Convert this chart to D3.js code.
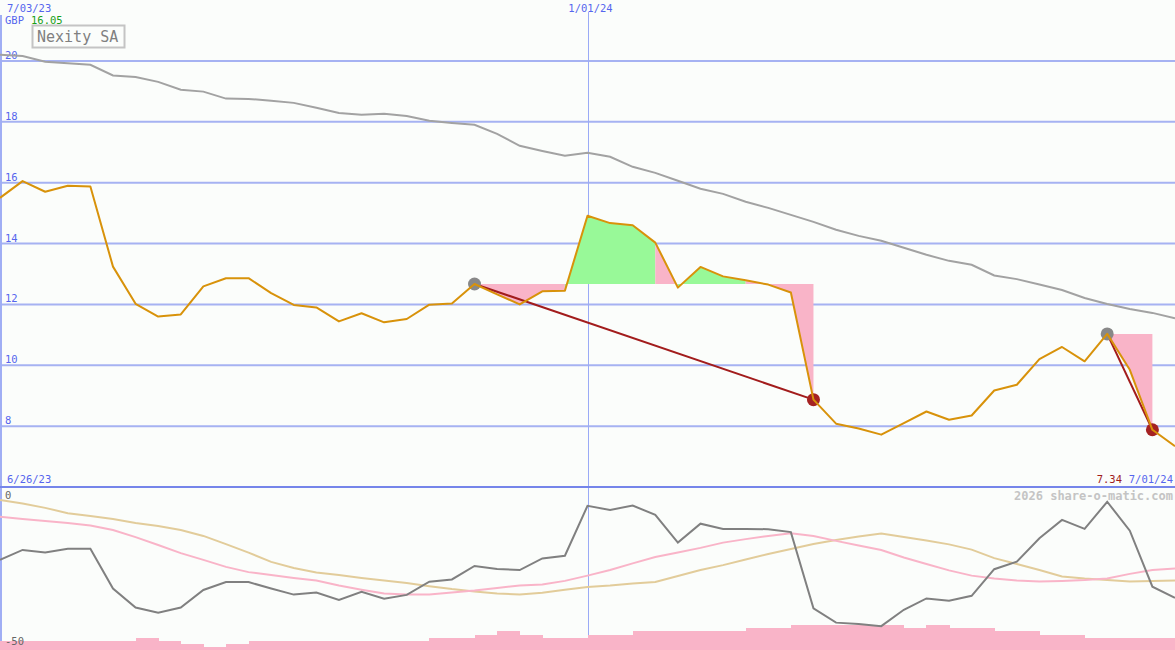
<!DOCTYPE html>
<html><head><meta charset="utf-8">
<script src="https://cdn.jsdelivr.net/npm/d3@7"></script>
<style>
body{margin:0;background:#fbfdfb}
svg{display:block}
text{font-family:"DejaVu Sans Mono",monospace}
</style>
</head><body>
<svg id="c" width="1175" height="650"></svg>
<script>
const startDate = "2023-07-03";
const endDate = "2024-07-01";
const midDate = "2024-01-01";
const priceTicks = [20, 18, 16, 14, 12, 10, 8];
const oscTicks = [0, -50];
const price = [15.5, 16.05, 15.7, 15.9, 15.87, 13.24, 12.02, 11.6, 11.67, 12.59, 12.86, 12.86, 12.37, 11.98, 11.9, 11.44, 11.71, 11.41, 11.52, 11.99, 12.03, 12.67, 12.33, 12.0, 12.43, 12.45, 14.91, 14.67, 14.6, 14.03, 12.55, 13.23, 12.92, 12.79, 12.65, 12.39, 8.87, 8.08, 7.92, 7.72, 8.1, 8.48, 8.21, 8.35, 9.17, 9.36, 10.2, 10.6, 10.13, 11.03, 9.85, 7.88, 7.34];
const priceMA = [20.2, 20.16, 19.97, 19.92, 19.87, 19.52, 19.47, 19.31, 19.05, 18.99, 18.76, 18.75, 18.69, 18.62, 18.46, 18.29, 18.23, 18.26, 18.19, 18.03, 17.96, 17.9, 17.6, 17.21, 17.04, 16.88, 16.98, 16.85, 16.52, 16.32, 16.06, 15.8, 15.63, 15.37, 15.17, 14.94, 14.71, 14.45, 14.25, 14.09, 13.86, 13.63, 13.43, 13.3, 12.95, 12.83, 12.65, 12.47, 12.21, 12.01, 11.85, 11.72, 11.54];
const oscFast = [-20.5, -17.1, -18, -16.7, -16.7, -30.3, -36.8, -38.6, -36.8, -30.8, -28.1, -28.1, -30.3, -32.4, -31.7, -34.2, -31.4, -33.8, -32.5, -28, -27.2, -22.6, -23.6, -24, -20, -19.1, -2, -3.4, -1.9, -5.1, -14.6, -8.1, -9.9, -9.9, -10, -11, -37.1, -42, -42.5, -43.2, -37.6, -33.7, -34.5, -32.8, -23.7, -21.1, -13.1, -6.8, -9.9, -0.6, -10.5, -29.7, -33.5];
const oscMid = [-5.7, -6.5, -7.2, -7.9, -8.7, -10.3, -12.7, -15.4, -18.2, -20.5, -22.9, -24.7, -25.7, -26.7, -27.6, -29.3, -30.7, -32.0, -32.4, -32.4, -31.7, -31.0, -30.1, -29.3, -28.9, -27.7, -25.9, -24.0, -21.7, -19.5, -18.0, -16.4, -14.6, -13.4, -12.3, -11.4, -12.3, -14.0, -15.6, -17.1, -19.7, -21.9, -24.1, -25.9, -26.9, -27.6, -27.9, -27.7, -27.4, -26.9, -25.3, -24.0, -23.5];
const oscSlow = [0, -1.2, -2.7, -4.5, -5.5, -6.5, -7.9, -8.9, -10.3, -12.3, -15.1, -18.0, -21.2, -23.3, -24.8, -25.7, -26.7, -27.6, -28.4, -29.5, -30.5, -31.3, -32.0, -32.4, -31.8, -30.7, -29.8, -29.3, -28.6, -28.1, -26.0, -24.0, -22.3, -20.4, -18.5, -16.8, -15.1, -13.7, -12.5, -11.5, -12.7, -13.9, -15.2, -17.0, -19.9, -21.9, -24.0, -26.2, -26.9, -27.4, -27.9, -27.7, -27.6];
const volume = [3, 3, 3, 3, 3, 3, 4, 3, 2, 1, 2, 3, 3, 3, 3, 3, 3, 3, 3, 4, 4, 5, 6, 5, 4, 4, 5, 5, 6, 6, 6, 6, 6, 7, 7, 8, 8, 8, 8, 8, 7, 8, 7, 7, 6, 6, 5, 5, 4, 4, 4, 4];
const tradeEntries = [21, 49];
const tradeExits = [36, 51];

const W = 1175, H = 650;
const svg = d3.select("#c");
const parse = d3.utcParse("%Y-%m-%d");
const d0 = parse(startDate), d1 = parse(endDate), dm = parse(midDate);
const dates = price.map((_, i) => d3.utcDay.offset(d0, 7 * i));

const x = d3.scaleUtc().domain([d0, d1]).range([0, W]);
const y = d3.scaleLinear().domain([6, 22]).range([487, 0]);
const yo = d3.scaleLinear().domain([0, -50]).range([500, 646]);
const yv = d3.scaleLinear().domain([0, 10]).range([650, 619]);

const blue = "#5565ee", grid = "#a6b2f2";
const FS = 10.5;

svg.append("rect").attr("width", W).attr("height", H).attr("fill", "#fbfdfb");

// grid lines
svg.selectAll(".g").data(priceTicks).join("line")
  .attr("x1", 0).attr("x2", W).attr("y1", d => y(d)).attr("y2", d => y(d))
  .attr("stroke", grid).attr("stroke-width", 2);
svg.selectAll(".gl").data(priceTicks).join("text")
  .attr("x", 5).attr("y", d => y(d) - 2).attr("font-size", FS).attr("fill", blue).text(d => d);

// vertical date line
const xm = Math.round(x(dm)) + 0.5;
svg.append("line").attr("x1", xm).attr("x2", xm).attr("y1", 12).attr("y2", H)
  .attr("stroke", "#9aaaf6").attr("stroke-width", 1);
// left axis line
svg.append("line").attr("x1", 1).attr("x2", 1).attr("y1", 15).attr("y2", H)
  .attr("stroke", "#a0aef4").attr("stroke-width", 2);

// trade fills (runs of equal colour merged)
const area = d3.area().x(d => x(dates[d.i])).y1(d => y(d.v));
tradeEntries.forEach((e, t) => {
  const base = price[e];
  const ex = tradeExits[t];
  let k = e;
  while (k < ex) {
    const up = price[k + 1] > base;
    let m = k + 1;
    while (m < ex && (price[m + 1] > base) === up) m++;
    const seg = d3.range(k, m + 1).map(i => ({i, v: price[i]}));
    svg.append("path").attr("d", area.y0(y(base))(seg))
      .attr("fill", up ? "#98f998" : "#f9b4c8");
    k = m;
  }
});

// moving average
const line = d3.line().x((d, i) => x(dates[i])).y(d => y(d));
svg.append("path").attr("d", line(priceMA)).attr("fill", "none")
  .attr("stroke", "#a2a2a2").attr("stroke-width", 2);

// trade lines and markers
tradeEntries.forEach((e, t) => {
  const xe = tradeExits[t];
  svg.append("line").attr("x1", x(dates[e])).attr("y1", y(price[e]))
    .attr("x2", x(dates[xe])).attr("y2", y(price[xe]))
    .attr("stroke", "#a21c1c").attr("stroke-width", 2);
  svg.append("circle").attr("cx", x(dates[e])).attr("cy", y(price[e])).attr("r", 6.5).attr("fill", "#888");
  svg.append("circle").attr("cx", x(dates[xe])).attr("cy", y(price[xe])).attr("r", 6.5).attr("fill", "#a52222");
});

// price line
svg.append("path").attr("d", line(price)).attr("fill", "none")
  .attr("stroke", "#d8920a").attr("stroke-width", 2).attr("stroke-linejoin", "round");

// panel divider
svg.append("line").attr("x1", 0).attr("x2", W).attr("y1", 487).attr("y2", 487)
  .attr("stroke", "#7585ea").attr("stroke-width", 2);

// volume bars
svg.selectAll(".v").data(volume).join("rect")
  .attr("x", (d, i) => x(dates[i])).attr("width", (d, i) => x(dates[i + 1]) - x(dates[i]) + 0.5)
  .attr("y", d => yv(d)).attr("height", d => 650 - yv(d)).attr("fill", "#f9b4c8")
  .attr("shape-rendering", "crispEdges");

// oscillators
const oline = d3.line().x((d, i) => x(dates[i])).y(d => yo(d));
svg.append("path").attr("d", oline(oscSlow)).attr("fill", "none").attr("stroke", "#e2cc9a").attr("stroke-width", 2);
svg.append("path").attr("d", oline(oscMid)).attr("fill", "none").attr("stroke", "#f9b4c8").attr("stroke-width", 2);
svg.append("path").attr("d", oline(oscFast)).attr("fill", "none").attr("stroke", "#808080").attr("stroke-width", 2);

svg.selectAll(".ol").data(oscTicks).join("text")
  .attr("x", 5).attr("y", d => yo(d) - 1).attr("font-size", FS).attr("fill", "#666").text(d => d);

// texts
const fmt = d3.utcFormat("%-m/%d/%y");
svg.append("text").attr("x", 7).attr("y", 12).attr("font-size", FS).attr("fill", blue).text(fmt(d0));
svg.append("text").attr("x", x(dm) + 3).attr("y", 12).attr("font-size", FS).attr("fill", blue)
  .attr("text-anchor", "middle").text(fmt(dm));
svg.append("text").attr("x", 5).attr("y", 24).attr("font-size", FS).attr("fill", blue).text("GBP");
svg.append("text").attr("x", 31).attr("y", 24).attr("font-size", FS).attr("fill", "#18a018").text(d3.max(price).toFixed(2));
svg.append("rect").attr("x", 32.5).attr("y", 25.5).attr("width", 92).attr("height", 22)
  .attr("fill", "#fbfdfb").attr("stroke", "#c4c4c4").attr("stroke-width", 2);
svg.append("text").attr("x", 37).attr("y", 42).attr("font-size", 15).attr("fill", "#808080").text("Nexity SA");
svg.append("text").attr("x", 7).attr("y", 483).attr("font-size", FS).attr("fill", blue)
  .text(fmt(d3.utcDay.offset(d0, -7)));
svg.append("text").attr("x", 1173).attr("y", 483).attr("font-size", FS).attr("fill", blue)
  .attr("text-anchor", "end").text(fmt(d1));
svg.append("text").attr("x", 1122).attr("y", 483).attr("font-size", FS).attr("fill", "#a01c1c")
  .attr("text-anchor", "end").text(price[price.length - 1].toFixed(2));
svg.append("text").attr("x", 1173).attr("y", 500).attr("font-size", 12).attr("fill", "#c4c4c4")
  .attr("text-anchor", "end").attr("font-weight", "bold").text("2026 share-o-matic.com");
</script>
</body></html>
